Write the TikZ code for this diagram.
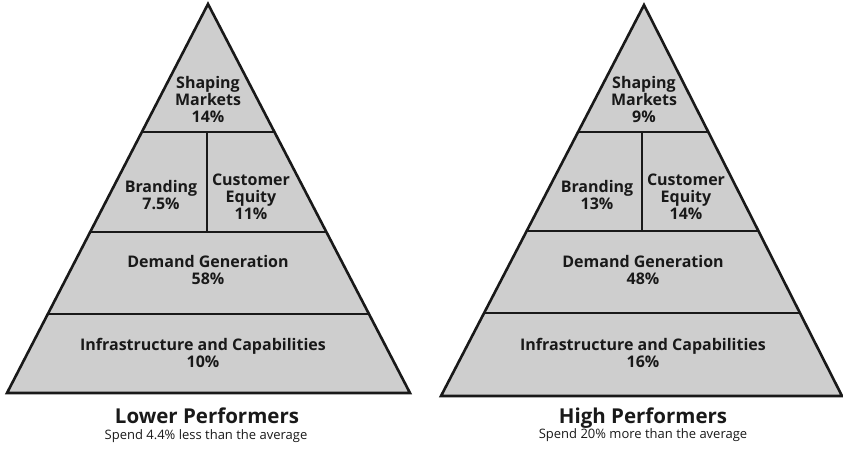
\documentclass[tikz,border=0pt]{standalone}
\usepackage{fontspec}
\setmainfont{Open Sans}
\definecolor{pyrgray}{RGB}{206,206,206}
\definecolor{ink}{RGB}{25,25,25}
\begin{document}
\begin{tikzpicture}[x=1pt,y=-1pt,
  pline/.style={draw=ink,line width=2.6pt},
  lbl/.style={font=\bfseries\fontsize{16}{17}\selectfont,align=center,inner sep=0pt,text=ink},
  ttl/.style={font=\bfseries\fontsize{20.5}{22}\selectfont,inner sep=0pt,text=ink,anchor=base},
  sub/.style={font=\fontsize{13}{15}\selectfont,inner sep=0pt,text=ink,anchor=base}]
\useasboundingbox (0,0) rectangle (843,448);
% ---------- left pyramid ----------
\coordinate (LA) at (208,4);
\coordinate (LL) at (7,393);
\coordinate (LR) at (410,393);
\fill[pyrgray] (LA)--(LL)--(LR)--cycle;
\begin{scope}
\clip (LA)--(LL)--(LR)--cycle;
\draw[pline] (0,132)--(420,132) (0,232)--(420,232) (0,314)--(420,314) (207,132)--(207,232);
\end{scope}
\draw[pline,line join=miter] (LA)--(LL)--(LR)--cycle;
\node[lbl] (lsm) at (208,99) {Shaping\\Markets\\14\%};
\node[lbl] (lbr) at (161,195) {Branding\\7.5\%};
\node[lbl] (lce) at (251,197) {Customer\\Equity\\11\%};
\node[lbl] (ldg) at (208,270) {Demand Generation\\58\%};
\node[lbl] (lic) at (203,353) {Infrastructure and Capabilities\\10\%};
\node[ttl] (lt) at (207,423.5) {Lower Performers};
\node[sub] (ls) at (206,439) {Spend 4.4\% less than the average};
% ---------- right pyramid ----------
\coordinate (RA) at (644,5);
\coordinate (RL) at (441,396);
\coordinate (RR) at (842,396);
\fill[pyrgray] (RA)--(RL)--(RR)--cycle;
\begin{scope}
\clip (RA)--(RL)--(RR)--cycle;
\draw[pline] (430,132)--(843,132) (430,231)--(843,231) (430,313)--(843,313) (642,132)--(642,231);
\end{scope}
\draw[pline,line join=miter] (RA)--(RL)--(RR)--cycle;
\node[lbl] (rsm) at (644,99) {Shaping\\Markets\\9\%};
\node[lbl] (rbr) at (597,195) {Branding\\13\%};
\node[lbl] (rce) at (686,197) {Customer\\Equity\\14\%};
\node[lbl] (rdg) at (643,270) {Demand Generation\\48\%};
\node[lbl] (ric) at (643,353) {Infrastructure and Capabilities\\16\%};
\node[ttl] (rt) at (643,423) {High Performers};
\node[sub] (rs) at (643,438) {Spend 20\% more than the average};
\end{tikzpicture}
\end{document}
